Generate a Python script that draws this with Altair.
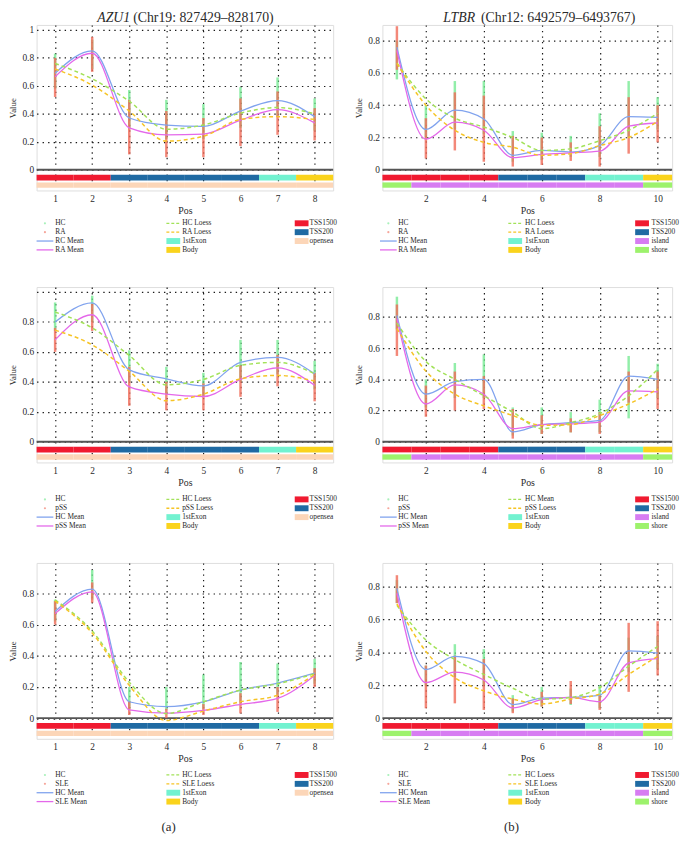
import altair as alt
import pandas as pd

FONT = "Liberation Serif"
TEXT = "#2a2a2a"

# ---------------- categories / annotation ----------------
AZU1_POS = [1, 2, 3, 4, 5, 6, 7, 8]
AZU1_REGION = ["TSS1500", "TSS1500", "TSS200", "TSS200", "TSS200", "TSS200", "1stExon", "Body"]
AZU1_ISLAND = ["opensea"] * 8
LTBR_POS = [1, 2, 3, 4, 5, 6, 7, 8, 9, 10]
LTBR_REGION = ["TSS1500", "TSS1500", "TSS1500", "TSS1500", "TSS200", "TSS200", "TSS200", "1stExon", "1stExon", "Body"]
LTBR_ISLAND = ["shore", "island", "island", "island", "island", "island", "island", "island", "island", "shore"]

# ---------------- panel 1 left: AZU1, HC vs RA ----------------
P1L_HC_LO = [0.58, 0.72, 0.30, 0.22, 0.22, 0.30, 0.38, 0.28]
P1L_HC_HI = [0.83, 0.93, 0.57, 0.50, 0.47, 0.59, 0.66, 0.51]
P1L_PT_LO = [0.52, 0.70, 0.11, 0.09, 0.09, 0.17, 0.25, 0.21]
P1L_PT_HI = [0.80, 0.95, 0.50, 0.42, 0.37, 0.51, 0.56, 0.44]
P1L_HC_MEAN = [0.69, 0.85, 0.37, 0.32, 0.31, 0.42, 0.495, 0.38]
P1L_PT_MEAN = [0.665, 0.833, 0.30, 0.25, 0.255, 0.355, 0.43, 0.335]
P1L_HC_LOESS = [0.76, 0.65, 0.49, 0.29, 0.32, 0.405, 0.445, 0.40]
P1L_PT_LOESS = [0.72, 0.605, 0.42, 0.205, 0.24, 0.36, 0.38, 0.36]

# ---------------- panel 1 right: LTBR, HC vs RA ----------------
P1R_HC_LO = [0.56, 0.20, 0.25, 0.22, 0.05, 0.06, 0.08, 0.08, 0.20, 0.25]
P1R_HC_HI = [0.80, 0.40, 0.55, 0.55, 0.24, 0.23, 0.21, 0.35, 0.55, 0.45]
P1R_PT_LO = [0.62, 0.07, 0.12, 0.05, 0.02, 0.03, 0.055, 0.02, 0.10, 0.17]
P1R_PT_HI = [0.89, 0.32, 0.48, 0.46, 0.21, 0.20, 0.17, 0.27, 0.45, 0.40]
P1R_HC_MEAN = [0.76, 0.25, 0.37, 0.315, 0.09, 0.12, 0.11, 0.15, 0.33, 0.325]
P1R_PT_MEAN = [0.74, 0.19, 0.295, 0.245, 0.075, 0.095, 0.105, 0.115, 0.27, 0.29]
P1R_HC_LOESS = [0.66, 0.44, 0.32, 0.265, 0.20, 0.12, 0.13, 0.18, 0.245, 0.35]
P1R_PT_LOESS = [0.66, 0.40, 0.245, 0.17, 0.14, 0.09, 0.10, 0.15, 0.20, 0.30]

# ---------------- panel 2 left: AZU1, HC vs pSS ----------------
P2L_HC_LO = [0.74, 0.80, 0.40, 0.32, 0.30, 0.40, 0.45, 0.35]
P2L_HC_HI = [0.93, 0.975, 0.61, 0.50, 0.46, 0.68, 0.68, 0.54]
P2L_PT_LO = [0.60, 0.74, 0.24, 0.21, 0.21, 0.30, 0.37, 0.27]
P2L_PT_HI = [0.76, 0.92, 0.50, 0.40, 0.39, 0.51, 0.58, 0.46]
P2L_HC_MEAN = [0.80, 0.927, 0.48, 0.42, 0.373, 0.53, 0.563, 0.454]
P2L_PT_MEAN = [0.68, 0.848, 0.366, 0.318, 0.302, 0.416, 0.493, 0.377]
P2L_HC_LOESS = [0.866, 0.76, 0.576, 0.38, 0.416, 0.51, 0.53, 0.454]
P2L_PT_LOESS = [0.745, 0.647, 0.47, 0.274, 0.318, 0.42, 0.443, 0.405]

# ---------------- panel 2 right: LTBR, HC vs pSS ----------------
P2R_HC_LO = [0.72, 0.22, 0.28, 0.28, 0.04, 0.05, 0.06, 0.06, 0.15, 0.28]
P2R_HC_HI = [0.93, 0.40, 0.505, 0.56, 0.22, 0.22, 0.19, 0.27, 0.55, 0.50]
P2R_PT_LO = [0.55, 0.16, 0.20, 0.21, 0.02, 0.05, 0.06, 0.05, 0.25, 0.21]
P2R_PT_HI = [0.88, 0.36, 0.45, 0.42, 0.21, 0.17, 0.15, 0.19, 0.45, 0.45]
P2R_HC_MEAN = [0.81, 0.305, 0.385, 0.40, 0.063, 0.11, 0.122, 0.137, 0.42, 0.40]
P2R_PT_MEAN = [0.79, 0.242, 0.364, 0.305, 0.084, 0.11, 0.115, 0.126, 0.326, 0.32]
P2R_HC_LOESS = [0.76, 0.515, 0.40, 0.295, 0.19, 0.084, 0.122, 0.18, 0.295, 0.463]
P2R_PT_LOESS = [0.726, 0.453, 0.305, 0.23, 0.168, 0.105, 0.11, 0.168, 0.242, 0.337]

# ---------------- panel 3 left: AZU1, HC vs SLE ----------------
P3L_HC_LO = [0.62, 0.76, 0.06, 0.05, 0.06, 0.10, 0.15, 0.22]
P3L_HC_HI = [0.76, 0.95, 0.20, 0.20, 0.28, 0.36, 0.35, 0.38]
P3L_PT_LO = [0.60, 0.74, 0.02, 0.00, 0.02, 0.03, 0.04, 0.20]
P3L_PT_HI = [0.75, 0.87, 0.11, 0.06, 0.09, 0.16, 0.20, 0.32]
P3L_HC_MEAN = [0.684, 0.827, 0.105, 0.074, 0.105, 0.18, 0.225, 0.288]
P3L_PT_MEAN = [0.67, 0.81, 0.053, 0.032, 0.05, 0.088, 0.126, 0.274]
P3L_HC_LOESS = [0.758, 0.558, 0.23, 0.03, 0.105, 0.18, 0.22, 0.285]
P3L_PT_LOESS = [0.75, 0.545, 0.21, -0.015, 0.045, 0.105, 0.147, 0.28]

# ---------------- panel 3 right: LTBR, HC vs SLE ----------------
P3R_HC_LO = [0.70, 0.20, 0.25, 0.20, 0.04, 0.07, 0.08, 0.06, 0.28, 0.30]
P3R_HC_HI = [0.84, 0.32, 0.45, 0.42, 0.14, 0.19, 0.18, 0.20, 0.49, 0.50]
P3R_PT_LO = [0.70, 0.06, 0.09, 0.05, 0.03, 0.07, 0.086, 0.05, 0.16, 0.26]
P3R_PT_HI = [0.87, 0.32, 0.38, 0.36, 0.12, 0.16, 0.226, 0.14, 0.58, 0.59]
P3R_HC_MEAN = [0.79, 0.296, 0.376, 0.332, 0.082, 0.122, 0.126, 0.14, 0.41, 0.396]
P3R_PT_MEAN = [0.76, 0.216, 0.28, 0.232, 0.062, 0.112, 0.126, 0.10, 0.336, 0.362]
P3R_HC_LOESS = [0.686, 0.476, 0.356, 0.266, 0.182, 0.116, 0.126, 0.186, 0.316, 0.436]
P3R_PT_LOESS = [0.696, 0.406, 0.246, 0.166, 0.116, 0.086, 0.116, 0.146, 0.266, 0.376]

# ---------------- legend texts ----------------
LEG_P1L = [["HC", "RA", "RC Mean", "RA Mean"], ["HC Loess", "RA Loess", "1stExon", "Body"], ["TSS1500", "TSS200", "opensea"]]
LEG_P1R = [["HC", "RA", "HC Mean", "RA Mean"], ["HC Loess", "RA Loess", "1stExon", "Body"], ["TSS1500", "TSS200", "island", "shore"]]
LEG_P2L = [["HC", "pSS", "HC Mean", "pSS Mean"], ["HC Loess", "pSS Loess", "1stExon", "Body"], ["TSS1500", "TSS200", "opensea"]]
LEG_P2R = [["HC", "pSS", "HC Mean", "pSS Mean"], ["HC Mean", "pSS Loess", "1stExon", "Body"], ["TSS1500", "TSS200", "island", "shore"]]
LEG_P3L = [["HC", "SLE", "HC Mean", "SLE Mean"], ["HC Loess", "SLE Loess", "1stExon", "Body"], ["TSS1500", "TSS200", "opensea"]]
LEG_P3R = [["HC", "SLE", "HC Mean", "SLE Mean"], ["HC Loess", "SLE Loess", "1stExon", "Body"], ["TSS1500", "TSS200", "island", "shore"]]

# ---------------- styles ----------------
C_HC_PTS = "#6EE88C"
C_PT_PTS = "#F06A58"
C_HC_MEAN = "#80A3EE"
C_PT_MEAN = "#E468EA"
C_HC_LOESS = "#A2E258"
C_PT_LOESS = "#F6C425"
REGION_COLORS = {"TSS1500": "#F01A30", "TSS200": "#1F6AA3", "1stExon": "#72F2D0",
                 "Body": "#FAD31C", "opensea": "#FCD6B8", "island": "#D77CF2", "shore": "#9DF26C"}
RECT_SHAPE = "M-1,-0.43L1,-0.43L1,0.43L-1,0.43Z"
GRID = dict(grid=True, gridDash=[1.4, 4.2], gridColor="#000000", gridWidth=1.2, gridOpacity=0.9,
            domain=False, ticks=False, labelFont=FONT, titleFont=FONT, labelColor=TEXT,
            titleColor=TEXT, titleFontWeight="normal", labelOverlap=False, labelBound=False)


def make_panel(pos, region, island, hc_lo, hc_hi, pt_lo, pt_hi, hc_mean, pt_mean, hc_loess, pt_loess,
               legend, ppu, height, width, xticks, yticks, ylab_max, leg_off, leg_cols, leg_dx,
               title=None, caption=None):
    zero_off = 21.0
    ymin = -zero_off / ppu
    ymax = (height - zero_off) / ppu
    df = pd.DataFrame({"pos": pos, "region": region, "island": island,
                       "hc_lo": hc_lo, "hc_hi": hc_hi, "pt_lo": pt_lo, "pt_hi": pt_hi,
                       "hc_mean": hc_mean, "pt_mean": pt_mean,
                       "hc_loess": hc_loess, "pt_loess": pt_loess})
    xs = alt.Scale(domain=[0.5, max(pos) + 0.5], nice=False, zero=False)
    ys = alt.Scale(domain=[ymin, ymax], nice=False, zero=False)
    xaxis = alt.Axis(values=xticks, title="Pos", format="d", labelPadding=3, labelFontSize=9.5,
                     titleFontSize=10, titlePadding=3, **GRID)
    yaxis = alt.Axis(values=yticks, title="Value", labelPadding=3, labelFontSize=9.5,
                     titleFontSize=9, titlePadding=4,
                     labelExpr=f"datum.value > {ylab_max} ? '' : format(datum.value, '~g')", **GRID)

    def X(field):
        return alt.X(f"{field}:Q", scale=xs, axis=xaxis, title="Pos")

    def Y(field):
        return alt.Y(f"{field}:Q", scale=ys, axis=yaxis, title="Value")

    base = alt.Chart(df)

    hc_pts = base.mark_rule(color=C_HC_PTS, strokeWidth=2.5, opacity=0.75).encode(
        x=X("pos"), y=Y("hc_lo"), y2="hc_hi:Q")
    zero = alt.Chart(pd.DataFrame({"z": [0.0]})).mark_rule(color="#555555", strokeWidth=2).encode(y=Y("z"))
    pt_pts = base.mark_rule(color=C_PT_PTS, strokeWidth=2.5, opacity=0.8).encode(
        x=X("pos"), y=Y("pt_lo"), y2="pt_hi:Q")

    def line(field, color, dash=None, w=1.3):
        kw = dict(interpolate="monotone", color=color, strokeWidth=w)
        if dash:
            kw["strokeDash"] = dash
        return base.mark_line(**kw).encode(x=X("pos"), y=Y(field))

    hc_m = line("hc_mean", C_HC_MEAN)
    pt_m = line("pt_mean", C_PT_MEAN)
    hc_l = line("hc_loess", C_HC_LOESS, [4, 3], 1.5)
    pt_l = line("pt_loess", C_PT_LOESS, [4, 3], 1.5)

    rscale = alt.Scale(domain=list(REGION_COLORS.keys()), range=list(REGION_COLORS.values()))

    def bar(field, a, b):
        return base.transform_calculate(x0="datum.pos - 0.5", x1="datum.pos + 0.5").mark_rect().encode(
            x=X("x0"), x2="x1:Q",
            y=alt.YDatum(-a / ppu, scale=ys, axis=yaxis, title="Value"), y2=alt.Y2Datum(-b / ppu),
            color=alt.Color(f"{field}:N", scale=rscale, legend=None))

    bar1 = bar("region", 5.0, 10.8)
    bar2 = bar("island", 12.8, 18.2)

    main_layers = [hc_pts, zero, pt_pts, hc_m, pt_m, hc_l, pt_l, bar1, bar2]
    one = pd.DataFrame({"t": [0]})
    if title:
        it, rest, xi, xr = title
        main_layers.append(alt.Chart(one).mark_text(text=it, font=FONT, fontSize=14, fontStyle="italic",
                                                    align="right", baseline="top", color=TEXT)
                           .encode(x=alt.value(xi), y=alt.value(-14)))
        main_layers.append(alt.Chart(one).mark_text(text=rest, font=FONT, fontSize=14,
                                                    align="left", baseline="top", color=TEXT)
                           .encode(x=alt.value(xr), y=alt.value(-14)))
    if caption:
        ct, cx, cy = caption
        main_layers.append(alt.Chart(one).mark_text(text=ct, font=FONT, fontSize=13,
                                                    align="center", baseline="middle", color=TEXT)
                           .encode(x=alt.value(cx), y=alt.value(cy)))
    main = alt.layer(*main_layers)

    # legend table
    kinds = [["dot", "dot", "line", "line"], ["dash", "dash", "rect", "rect"], ["rect"] * 4]
    col3_keys = ["TSS1500", "TSS200"] + [k for k in legend[2][2:]]
    cols = [[C_HC_PTS, C_PT_PTS, C_HC_MEAN, C_PT_MEAN],
            [C_HC_LOESS, C_PT_LOESS, REGION_COLORS["1stExon"], REGION_COLORS["Body"]],
            [REGION_COLORS[k] for k in col3_keys]]
    rows = []
    for c, labels in enumerate(legend):
        for r, lab in enumerate(labels):
            rows.append({"col": c, "row": r, "label": lab, "kind": kinds[c][r], "color": cols[c][r]})
    ldf = pd.DataFrame(rows)
    lx = alt.X("col:Q", scale=alt.Scale(domain=[0, 2], range=leg_cols), axis=None)
    ly = alt.Y("row:Q", scale=alt.Scale(domain=[0, 3], range=[height + leg_off, height + leg_off + 27]), axis=None)
    lb = alt.Chart(ldf).encode(x=lx, y=ly)
    lcol = alt.Color("color:N", scale=None)
    leg_layers = [
        lb.transform_filter("datum.kind == 'dot'").mark_circle(size=5, opacity=0.6).encode(color=lcol),
        lb.transform_filter("datum.kind == 'line'").mark_point(shape="stroke", size=289, filled=False,
                                                              strokeWidth=1.3, opacity=1).encode(color=lcol),
        lb.transform_filter("datum.kind == 'dash'").mark_point(shape="stroke", size=196, filled=False,
                                                              strokeDash=[3, 2], strokeWidth=1.3,
                                                              opacity=1).encode(color=lcol),
        lb.transform_filter("datum.kind == 'rect'").mark_point(shape=RECT_SHAPE, size=196, filled=True,
                                                              opacity=1).encode(color=lcol),
    ]
    for c in range(3):
        leg_layers.append(lb.transform_filter(f"datum.col == {c}").mark_text(
            align="left", baseline="middle", dx=leg_dx[c], fontSize=7.5, font=FONT, color=TEXT
        ).encode(text="label:N"))
    leg = alt.layer(*leg_layers)

    return alt.layer(main, leg).resolve_scale(x="independent", y="independent", color="independent") \
        .properties(width=width, height=height)


LW, RW = 301, 294
LEFT_LEG = dict(leg_cols=[8.5, 269], leg_dx=[10.5, 9, 8])
RIGHT_LEG = dict(leg_cols=[6, 263.5], leg_dx=[10, 10, 9.5])
LX = [1, 2, 3, 4, 5, 6, 7, 8]
RX = [2, 4, 6, 8, 10]
Y8 = [0, 0.2, 0.4, 0.6, 0.8]
Y10 = [0, 0.2, 0.4, 0.6, 0.8, 1.0]

p1l = make_panel(AZU1_POS, AZU1_REGION, AZU1_ISLAND, P1L_HC_LO, P1L_HC_HI, P1L_PT_LO, P1L_PT_HI,
                 P1L_HC_MEAN, P1L_PT_MEAN, P1L_HC_LOESS, P1L_PT_LOESS, LEG_P1L,
                 ppu=142, height=168, width=LW, xticks=LX, yticks=Y10, ylab_max=1.5, leg_off=33.3,
                 title=("AZU1", "(Chr19: 827429\u2013828170)", 95, 98), **LEFT_LEG)
p1r = make_panel(LTBR_POS, LTBR_REGION, LTBR_ISLAND, P1R_HC_LO, P1R_HC_HI, P1R_PT_LO, P1R_PT_HI,
                 P1R_HC_MEAN, P1R_PT_MEAN, P1R_HC_LOESS, P1R_PT_LOESS, LEG_P1R,
                 ppu=163.75, height=168, width=RW, xticks=RX, yticks=Y8, ylab_max=1.5, leg_off=33.3,
                 title=("LTBR", "(Chr12: 6492579\u20136493767)", 94, 100), **RIGHT_LEG)
p2l = make_panel(AZU1_POS, AZU1_REGION, AZU1_ISLAND, P2L_HC_LO, P2L_HC_HI, P2L_PT_LO, P2L_PT_HI,
                 P2L_HC_MEAN, P2L_PT_MEAN, P2L_HC_LOESS, P2L_PT_LOESS, LEG_P2L,
                 ppu=152, height=178, width=LW, xticks=LX, yticks=Y10, ylab_max=0.9, leg_off=37.5,
                 **LEFT_LEG)
p2r = make_panel(LTBR_POS, LTBR_REGION, LTBR_ISLAND, P2R_HC_LO, P2R_HC_HI, P2R_PT_LO, P2R_PT_HI,
                 P2R_HC_MEAN, P2R_PT_MEAN, P2R_HC_LOESS, P2R_PT_LOESS, LEG_P2R,
                 ppu=158.3, height=178, width=RW, xticks=RX, yticks=Y8, ylab_max=1.5, leg_off=37.5,
                 **RIGHT_LEG)
p3l = make_panel(AZU1_POS, AZU1_REGION, AZU1_ISLAND, P3L_HC_LO, P3L_HC_HI, P3L_PT_LO, P3L_PT_HI,
                 P3L_HC_MEAN, P3L_PT_MEAN, P3L_HC_LOESS, P3L_PT_LOESS, LEG_P3L,
                 ppu=158.3, height=178.5, width=LW, xticks=LX, yticks=Y8, ylab_max=1.5, leg_off=36.7,
                 caption=("(a)", 134, 268), **LEFT_LEG)
p3r = make_panel(LTBR_POS, LTBR_REGION, LTBR_ISLAND, P3R_HC_LO, P3R_HC_HI, P3R_PT_LO, P3R_PT_HI,
                 P3R_HC_MEAN, P3R_PT_MEAN, P3R_HC_LOESS, P3R_PT_LOESS, LEG_P3R,
                 ppu=166.75, height=178.5, width=RW, xticks=RX, yticks=Y8, ylab_max=1.5, leg_off=36.7,
                 caption=("(b)", 131, 268), **RIGHT_LEG)

chart = alt.vconcat(
    alt.hconcat(p1l, p1r, spacing=16),
    alt.hconcat(p2l, p2r, spacing=16),
    alt.hconcat(p3l, p3r, spacing=16),
    spacing=32,
).properties(padding={"left": 0, "top": -4, "right": 0, "bottom": 0}, background="white") \
 .configure_view(stroke=None).configure(font=FONT)

chart.save("out.html", embed_options={"renderer": "svg", "actions": False})
